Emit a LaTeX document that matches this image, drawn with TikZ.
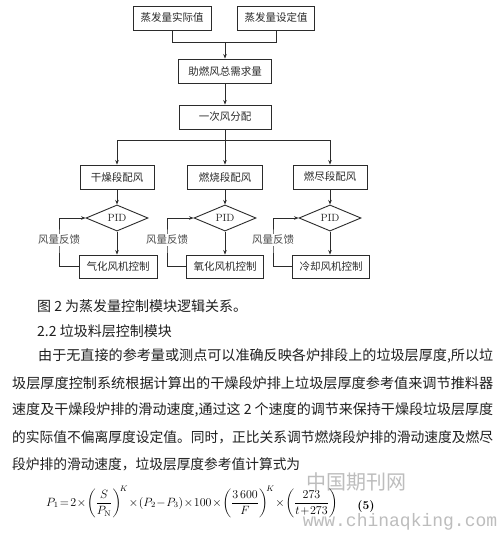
\documentclass[tikz,border=0pt]{standalone}
\usepackage{fontspec}
\usepackage{amsmath}
\usepackage{graphicx}
\usepackage{tikz}
\usetikzlibrary{arrows.meta,shapes.geometric}
\newfontfamily\cjkfont{Noto Sans CJK SC}
\newfontfamily\wmfont{Liberation Mono}
\definecolor{inkGray}{HTML}{2B2B2B}
\definecolor{markGray}{HTML}{BDBDBD}

\begin{document}
\begin{tikzpicture}[x=1pt, y=-1pt,
    flowBox/.style={rectangle, draw=inkGray, line width=0.9pt, fill=white, font=\cjkfont\fontsize{10.5}{12}\selectfont, text=inkGray, minimum height=24pt, inner sep=2pt},
    pidBox/.style={diamond, draw=inkGray, line width=0.9pt, fill=white, font=\fontsize{10.5}{12}\selectfont, text=inkGray, minimum width=62pt, minimum height=20pt, inner sep=0pt},
    feedLabel/.style={fill=white, font=\cjkfont\fontsize{10.5}{12}\selectfont, text=inkGray!85, inner sep=1pt},
    bodyLine/.style={anchor=west, inner sep=0pt, font=\cjkfont\fontsize{14}{16}\selectfont, text=black!88},
    lineStyle/.style={line width=0.8pt, draw=inkGray},
    arrowStyle/.style={-{Stealth[length=4.5pt,width=3.5pt]}, line width=0.8pt, draw=inkGray}
]
    \useasboundingbox[fill=white] (0,0) rectangle (499,533);

    \node[flowBox, minimum width=78pt] (evapReal) at (172,18) {蒸发量实际值};
    \node[flowBox, minimum width=77pt] (evapSet) at (276,18) {蒸发量设定值};
    \node[flowBox, minimum width=93pt] (airTotal) at (225,71) {助燃风总需求量};
    \node[flowBox, minimum width=92pt] (primAir) at (225,117) {一次风分配};

    \node[flowBox, minimum width=74pt] (dryAir) at (117,177) {干燥段配风};
    \node[flowBox, minimum width=75pt] (burnAir) at (225,177) {燃烧段配风};
    \node[flowBox, minimum width=74pt] (outAir) at (330,177) {燃尽段配风};

    \node[pidBox] (dryPid) at (117,218) {PID};
    \node[pidBox] (burnPid) at (225,218) {PID};
    \node[pidBox] (outPid) at (330,218) {PID};

    \node[flowBox, minimum width=78pt, minimum height=23pt] (gasFan) at (118,266.5) {气化风机控制};
    \node[flowBox, minimum width=77pt, minimum height=23pt] (oxyFan) at (225,266.5) {氧化风机控制};
    \node[flowBox, minimum width=77pt, minimum height=23pt] (coolFan) at (331,266.5) {冷却风机控制};

    \coordinate (joinTop) at (225,42);
    \coordinate (split) at (225,140);
    \coordinate (dryBack) at (59,240);
    \coordinate (burnBack) at (167,240);
    \coordinate (outBack) at (273,240);

    \draw[lineStyle] (evapReal.south) -- (evapReal.south |- joinTop) -- (evapSet.south |- joinTop) -- (evapSet.south);
    \draw[arrowStyle] (joinTop) -- (airTotal.north);
    \draw[arrowStyle] (airTotal.south) -- (primAir.north);
    \draw[lineStyle] (primAir.south) -- (split);
    \draw[arrowStyle] (split) -| (dryAir.north);
    \draw[arrowStyle] (split) -- (burnAir.north);
    \draw[arrowStyle] (split) -| (outAir.north);

    \draw[arrowStyle] (dryAir.south) -- (dryPid.north);
    \draw[arrowStyle] (burnAir.south) -- (burnPid.north);
    \draw[arrowStyle] (outAir.south) -- (outPid.north);
    \draw[arrowStyle] (dryPid.south) -- (dryPid.south |- gasFan.north);
    \draw[arrowStyle] (burnPid.south) -- (burnPid.south |- oxyFan.north);
    \draw[arrowStyle] (outPid.south) -- (outPid.south |- coolFan.north);

    \draw[arrowStyle] (gasFan.west) -| (dryBack) |- (dryPid.west);
    \draw[arrowStyle] (oxyFan.west) -| (burnBack) |- (burnPid.west);
    \draw[arrowStyle] (coolFan.west) -| (outBack) |- (outPid.west);
    \node[feedLabel] (dryFeed) at (dryBack) {风量反馈};
    \node[feedLabel] (burnFeed) at (burnBack) {风量反馈};
    \node[feedLabel] (outFeed) at (outBack) {风量反馈};

    \node[bodyLine] (figCaption) at (37,306) {图 2 为蒸发量控制模块逻辑关系。};
    \node[bodyLine] (secTitle) at (37,331) {2.2 垃圾料层控制模块};
    \node[bodyLine] (paraA) at (38,356) {\resizebox{455pt}{\height}{由于无直接的参考量或测点可以准确反映各炉排段上的垃圾层厚度,所以垃}};
    \node[bodyLine] (paraB) at (12,383) {\resizebox{481pt}{\height}{圾层厚度控制系统根据计算出的干燥段炉排上垃圾层厚度参考值来调节推料器}};
    \node[bodyLine] (paraC) at (12,410) {\resizebox{481pt}{\height}{速度及干燥段炉排的滑动速度,通过这 2 个速度的调节来保持干燥段垃圾层厚度}};
    \node[bodyLine] (paraD) at (12,437) {\resizebox{481pt}{\height}{的实际值不偏离厚度设定值。同时，正比关系调节燃烧段炉排的滑动速度及燃尽}};
    \node[bodyLine] (paraE) at (12,464) {\resizebox{288pt}{\height}{段炉排的滑动速度，垃圾层厚度参考值计算式为}};

    \node[font=\cjkfont\fontsize{20}{22}\selectfont, text=markGray, inner sep=0pt] (markCn) at (356,482) {中国期刊网};

    \node[anchor=west, inner sep=0pt, font=\fontsize{12}{14}\selectfont] (refFormula) at (46,502) {\medmuskip=1mu\thickmuskip=2mu $P_1=2\times\left(\dfrac{S}{P_\mathrm{N}}\right)^{\!K}\times(P_2-P_3)\times100\times\left(\dfrac{3\,600}{F}\right)^{\!K}\times\left(\dfrac{273}{t+273}\right)$};
    \node[inner sep=0pt, font=\bfseries\fontsize{12}{14}\selectfont] (eqNum) at (366,506) {(5)};

    \node[font=\wmfont\fontsize{18}{20}\selectfont, text=markGray, inner sep=0pt] (markUrl) at (400,522) {www.chinaqking.com};
\end{tikzpicture}
\end{document}
